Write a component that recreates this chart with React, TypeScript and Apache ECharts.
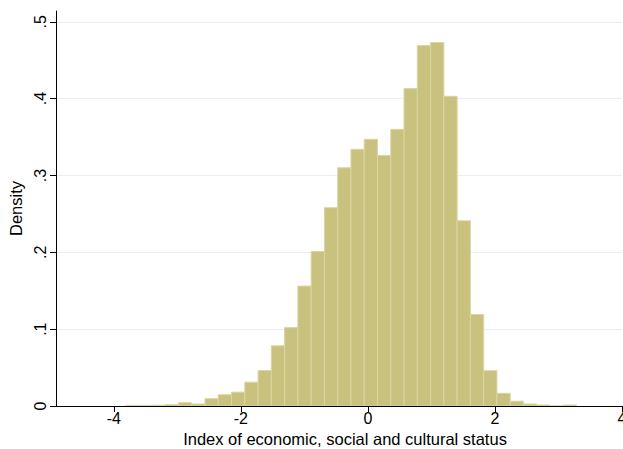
import React, { useEffect, useRef } from "react";
import * as echarts from "echarts";

// Histogram of ESCS index (density per bin)
const binStart = -3.818;
const binWidth = 0.2089;
const densities = [
  0.0008, 0.0008, 0.001, 0.0017, 0.0043, 0.0026, 0.0095, 0.0147, 0.018, 0.031,
  0.0462, 0.0784, 0.102, 0.156, 0.201, 0.258, 0.31, 0.334, 0.347, 0.326,
  0.36, 0.413, 0.469, 0.473, 0.403, 0.241, 0.119, 0.046, 0.0165, 0.0063,
  0.0026, 0.0013, 0, 0.0013,
];
const xTicks = [-4, -2, 0, 2, 4];
const yTicks = [0, 0.1, 0.2, 0.3, 0.4, 0.5];
const xTitle = "Index of economic, social and cultural status";
const yTitle = "Density";

const FONT = "Liberation Sans, Arial, Helvetica, sans-serif";

export default function App() {
  const ref = useRef<HTMLDivElement>(null);
  useEffect(() => {
    if (!ref.current) return;
    const chart = echarts.init(ref.current, undefined, { renderer: "svg" });
    const data = densities.map((d, i) => [
      binStart + i * binWidth,
      binStart + (i + 1) * binWidth,
      d,
    ]);
    chart.setOption({
      animation: false,
      backgroundColor: "#ffffff",
      grid: {
        left: 56,
        right: 1,
        top: 11,
        bottom: 43,
        containLabel: false,
        outerBoundsMode: "none",
      },
      xAxis: {
        type: "value",
        min: -4.91,
        max: 4,
        name: xTitle,
        nameLocation: "middle",
        nameGap: 23,
        nameTextStyle: { fontFamily: FONT, fontSize: 16.5, color: "#000", padding: [0, 0, 0, 12] },
        axisLine: { show: true, onZero: false, lineStyle: { color: "#000", width: 1 } },
        axisTick: { show: true, length: 6, customValues: xTicks, lineStyle: { color: "#000" } },
        axisLabel: {
          customValues: xTicks,
          fontFamily: FONT,
          fontSize: 16,
          color: "#000",
          margin: 4,
          formatter: (v: number) => String(v),
        },
        splitLine: { show: false },
      },
      yAxis: {
        type: "value",
        min: 0,
        max: 0.514,
        name: yTitle,
        nameLocation: "middle",
        nameGap: 30,
        nameRotate: 90,
        nameTextStyle: { fontFamily: FONT, fontSize: 16.5, color: "#000" },
        axisLine: { show: true, onZero: false, lineStyle: { color: "#000", width: 1 } },
        axisTick: { show: true, length: 6, customValues: yTicks, lineStyle: { color: "#000" } },
        axisLabel: {
          customValues: yTicks,
          rotate: 90,
          fontFamily: FONT,
          fontSize: 16,
          color: "#000",
          margin: 8,
          formatter: (v: number) =>
            v === 0 ? "0" : (Math.round(v * 10) / 10).toFixed(1).replace(/^0/, ""),
        },
        splitLine: { show: true, lineStyle: { color: "#e8eff2", width: 1 } },
      },
      series: [
        {
          type: "custom",
          clip: true,
          data,
          renderItem: (params: any, api: any) => {
            const x0 = api.value(0);
            const x1 = api.value(1);
            const h = api.value(2);
            const p0 = api.coord([x0, h]);
            const p1 = api.coord([x1, 0]);
            return {
              type: "rect",
              shape: { x: p0[0], y: p0[1], width: p1[0] - p0[0], height: p1[1] - p0[1] },
              style: { fill: "#c9c27f", stroke: "#dad5a3", lineWidth: 1 },
            };
          },
        },
      ],
    });
    return () => chart.dispose();
  }, []);
  return (
    <div
      ref={ref}
      style={{ position: "fixed", left: 0, top: 0, width: 623, height: 449, background: "#fff" }}
    />
  );
}
